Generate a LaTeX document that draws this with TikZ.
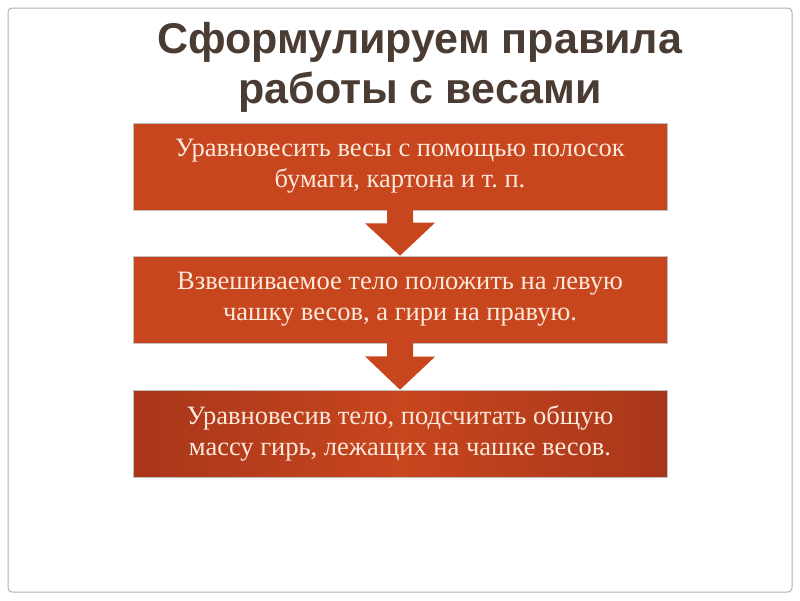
\documentclass[tikz,border=0pt]{standalone}
\usepackage{fontspec}
\setmainfont{Liberation Serif}
\newfontfamily\titlefont{Liberation Sans}
\usetikzlibrary{calc}
\definecolor{boxc}{HTML}{C8461E}
\definecolor{boxd}{HTML}{A8361A}
\definecolor{titc}{HTML}{4A3B33}
\definecolor{txtc}{HTML}{FBE9DC}
\tikzset{
 stepbox/.style={fill=boxc, draw=black!25, line width=0.6pt, minimum width=534pt, minimum height=87pt, inner sep=0pt, align=center, text=txtc, font=\fontsize{26.5}{31}\selectfont},
 arr/.style={fill=boxc, draw=none}
}
\begin{document}
\begin{tikzpicture}[x=1pt,y=-1pt]
\useasboundingbox (0,0) rectangle (800,600);
\fill[white] (0,0) rectangle (800,600);
\draw[black!30, line width=1pt, rounded corners=4pt] (8,8) rectangle (792,592);
\node[text=titc, font=\titlefont\bfseries\fontsize{43}{50}\selectfont, align=center] (title) at (420,67) {Сформулируем правила\\работы с весами};
\node[stepbox] (b1) at (400,166.5) {Уравновесить весы с помощью полосок\\бумаги, картона и т.~п.};
\node[stepbox] (b2) at (400,299.5) {Взвешиваемое тело положить на левую\\чашку весов, а гири на правую.};
\node[stepbox, left color=boxd, right color=boxd, middle color=boxc] (b3) at (400,433.5) {Уравновесив тело, подсчитать общую\\массу гирь, лежащих на чашке весов.};
\fill[arr] ($(b1.south)+(-13,-0.5)$) -- ++(0,13.5) -- ++(-22,0) -- (b2.north) -- ++(35,-33) -- ++(-22,0) -- ++(0,-13.5) -- cycle;
\fill[arr] ($(b2.south)+(-13,-0.5)$) -- ++(0,13.5) -- ++(-22,0) -- (b3.north) -- ++(35,-33) -- ++(-22,0) -- ++(0,-13.5) -- cycle;
\end{tikzpicture}
\end{document}
